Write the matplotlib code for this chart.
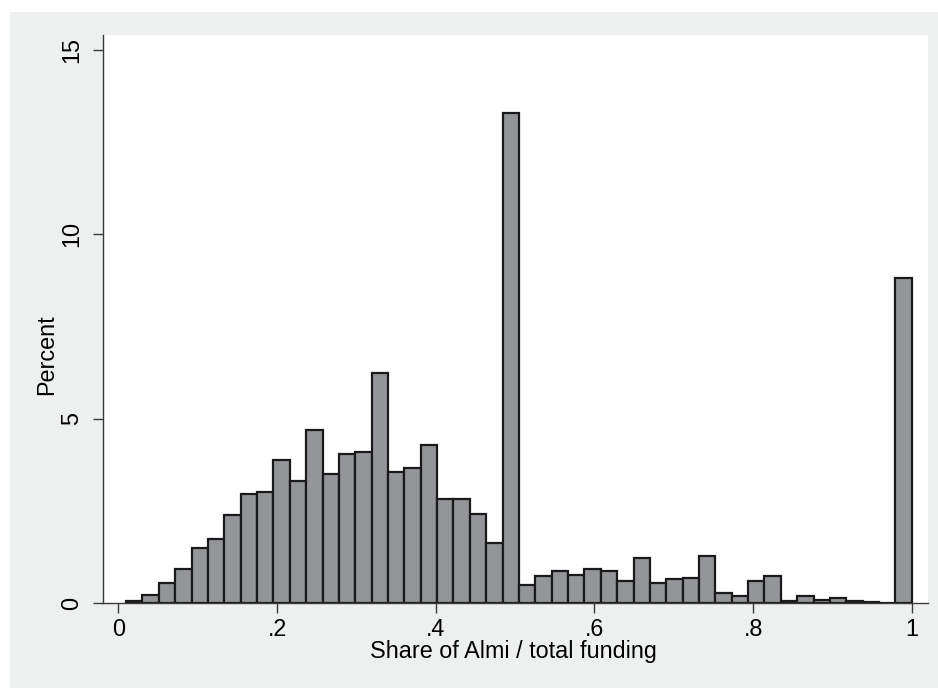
import numpy as np
import matplotlib
matplotlib.use("Agg")
import matplotlib.pyplot as plt
from matplotlib.patches import Rectangle

plt.rcParams['font.family'] = ['Liberation Sans', 'DejaVu Sans']

# histogram: 48 bins between the smallest share and 1
bin_lo = 0.0098
bin_hi = 1.0
percent = [0.05, 0.23, 0.53, 0.91, 1.48, 1.74, 2.39, 2.96, 3.00, 3.88,
           3.30, 4.68, 3.49, 4.04, 4.09, 6.24, 3.55, 3.66, 4.28, 2.81,
           2.81, 2.42, 1.63, 13.30, 0.48, 0.72, 0.87, 0.76, 0.91, 0.86,
           0.61, 1.22, 0.53, 0.64, 0.67, 1.28, 0.26, 0.18, 0.59, 0.72,
           0.06, 0.19, 0.09, 0.14, 0.05, 0.03, 0.01, 8.81]
xticks = [0, 0.2, 0.4, 0.6, 0.8, 1]
xlabels = ["0", ".2", ".4", ".6", ".8", "1"]
yticks = [0, 5, 10, 15]

edges = np.linspace(bin_lo, bin_hi, len(percent) + 1)
width = edges[1] - edges[0]

fig = plt.figure(figsize=(9.38, 6.88), dpi=100, facecolor="white")
# stata style light gray graph region
bg = Rectangle((10 / 938, 0), 1, 1 - 12 / 688, transform=fig.transFigure,
               facecolor="#eef0ef", edgecolor="none", zorder=-10)
fig.add_artist(bg)

ax = fig.add_axes([103 / 938, 85 / 688, 825 / 938, 568 / 688])
ax.set_zorder(1)
ax.set_facecolor("white")
ax.bar(edges[:-1], percent, width=width, align="edge", color="#939598",
       edgecolor="#1a1a1a", linewidth=1.6, zorder=2)

ax.set_xlim(-0.0193, 1.0204)
ax.set_ylim(0, 15.41)
ax.set_xticks(xticks)
ax.set_xticklabels(xlabels)
ax.set_yticks(yticks)

for s in ["top", "right"]:
    ax.spines[s].set_visible(False)
for s in ["left", "bottom"]:
    ax.spines[s].set_color("#3a3a3a")
    ax.spines[s].set_linewidth(1.0)

ax.tick_params(axis="x", length=7, width=1, color="#3a3a3a", pad=4, labelsize=16.8)
ax.tick_params(axis="y", length=7, width=1, color="#3a3a3a", pad=7, labelsize=16.8)
plt.setp(ax.get_yticklabels(), rotation=90, va="center")

ax.set_xlabel("Share of Almi / total funding", fontsize=16.8)
ax.set_ylabel("Percent", fontsize=16.8)
ax.xaxis.set_label_coords(0.4975, -0.0857)
ax.yaxis.set_label_coords(-0.0682, 0.4366)
ax.xaxis.label.set_va("center")
ax.yaxis.label.set_va("center")

fig.savefig("out.png", dpi=100, facecolor=fig.get_facecolor())
